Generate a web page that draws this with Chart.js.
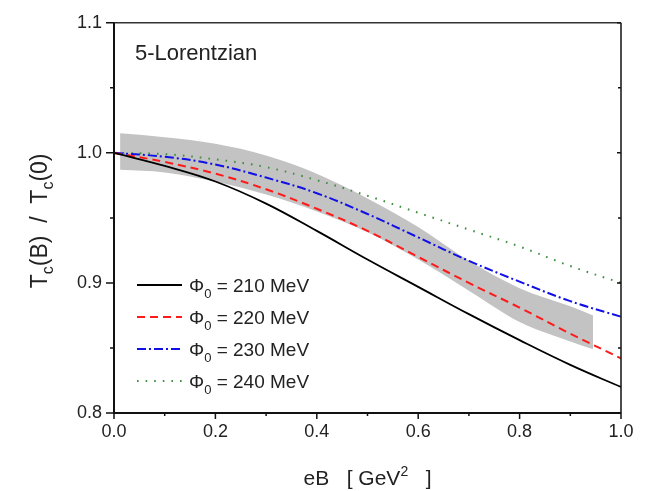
<!DOCTYPE html>
<html>
<head>
<meta charset="utf-8">
<script src="https://cdn.jsdelivr.net/npm/chart.js@4.4.1/dist/chart.umd.min.js"></script>
<style>
html, body { margin: 0; padding: 0; background: #fff; }
#wrap { width: 651px; height: 491px; }
</style>
</head>
<body>
<div id="wrap"><canvas id="tcChart"></canvas></div>
<script>
// eB in GeV^2
const eB = [0.0, 0.1, 0.2, 0.3, 0.4, 0.5, 0.6, 0.7, 0.8, 0.9, 1.0];
const tc210 = [1.000, 0.990, 0.978, 0.961, 0.940, 0.918, 0.897, 0.876, 0.856, 0.837, 0.820];
const tc220 = [1.000, 0.993, 0.984, 0.972, 0.957, 0.940, 0.920, 0.900, 0.881, 0.861, 0.842];
const tc230 = [1.000, 0.997, 0.991, 0.981, 0.969, 0.953, 0.935, 0.917, 0.901, 0.886, 0.874];
const tc240 = [1.000, 0.999, 0.995, 0.989, 0.979, 0.967, 0.954, 0.941, 0.928, 0.913, 0.900];

// lattice band
const bandX = [0.012, 0.1, 0.2, 0.3, 0.4, 0.5, 0.6, 0.7, 0.8, 0.9, 0.945];
const bandUpper = [1.015, 1.012, 1.007, 0.998, 0.984, 0.965, 0.943, 0.917, 0.896, 0.882, 0.875];
const bandLower = [0.987, 0.985, 0.978, 0.968, 0.955, 0.939, 0.918, 0.894, 0.870, 0.855, 0.849];

const phi0 = [210, 220, 230, 240];
const xTicks = [0.0, 0.2, 0.4, 0.6, 0.8, 1.0];
const xMinor = [0.1, 0.3, 0.5, 0.7, 0.9];
const yTicks = [0.8, 0.9, 1.0, 1.1];
const yMinor = [0.85, 0.95, 1.05];

const pts = (xs, ys) => xs.map((x, i) => ({ x: x, y: ys[i] }));
const FONT = '"Liberation Sans", Arial, sans-serif';
const INK = '#222';

const lineSet = (label, ys, color, dash, width) => ({
    label: label,
    data: pts(eB, ys),
    borderColor: color,
    borderDash: dash,
    borderWidth: width,
    pointRadius: 0,
    fill: false,
    tension: 0.4,
    order: 1
});

// frame, ticks, titles and legend drawn on top of the chart
const decorations = {
    id: 'decorations',
    afterDraw(chart) {
        const ctx = chart.ctx;
        const a = chart.chartArea;
        const xs = chart.scales.x, ys = chart.scales.y;
        ctx.save();

        // frame
        ctx.strokeStyle = '#333';
        ctx.lineWidth = 1.5;
        ctx.beginPath();
        ctx.moveTo(a.left, a.top); ctx.lineTo(a.right, a.top);
        ctx.stroke();
        ctx.strokeStyle = '#111';
        ctx.beginPath();
        ctx.moveTo(a.right, a.top); ctx.lineTo(a.right, a.bottom);
        ctx.stroke();
        ctx.lineWidth = 2;
        ctx.beginPath();
        ctx.moveTo(a.left, a.top); ctx.lineTo(a.left, a.bottom);
        ctx.lineTo(a.right, a.bottom);
        ctx.stroke();

        // ticks
        ctx.lineWidth = 1.5;
        ctx.beginPath();
        yTicks.forEach(v => {
            const p = ys.getPixelForValue(v);
            ctx.moveTo(a.left - 8, p); ctx.lineTo(a.left, p);
            ctx.moveTo(a.right - 4, p); ctx.lineTo(a.right, p);
        });
        yMinor.forEach(v => {
            const p = ys.getPixelForValue(v);
            ctx.moveTo(a.left - 4, p); ctx.lineTo(a.left, p);
            ctx.moveTo(a.right - 3, p); ctx.lineTo(a.right, p);
        });
        xTicks.forEach(v => {
            const p = xs.getPixelForValue(v);
            ctx.moveTo(p, a.bottom); ctx.lineTo(p, a.bottom + 6);
        });
        xMinor.forEach(v => {
            const p = xs.getPixelForValue(v);
            ctx.moveTo(p, a.bottom); ctx.lineTo(p, a.bottom + 3);
        });
        ctx.stroke();

        ctx.fillStyle = INK;
        ctx.textBaseline = 'alphabetic';

        // panel label
        ctx.font = '22px ' + FONT;
        ctx.textAlign = 'left';
        ctx.fillText('5-Lorentzian', a.left + 21, 60);

        // x title: eB [ GeV^2 ]
        const xParts = [
            { t: 'eB', size: 21, dy: 0 },
            { t: '   [ GeV', size: 21, dy: 0 },
            { t: '2', size: 14, dy: -9 },
            { t: '   ]', size: 21, dy: 0 }
        ];
        drawParts(ctx, xParts, (a.left + a.right) / 2, 485);

        // y title: Tc(B) / Tc(0), rotated
        ctx.save();
        ctx.translate(47, (a.top + a.bottom) / 2 + 3);
        ctx.rotate(-Math.PI / 2);
        const yParts = [
            { t: 'T', size: 23, dy: 0 },
            { t: 'c', size: 16, dy: 6 },
            { t: '(B)  /  T', size: 23, dy: 0 },
            { t: 'c', size: 16, dy: 6 },
            { t: '(0)', size: 23, dy: 0 }
        ];
        drawParts(ctx, yParts, 0, 0);
        ctx.restore();

        // legend
        const lines = chart.data.datasets.filter(d => d.order === 1);
        lines.forEach((d, i) => {
            const yc = 285 + i * 32;
            ctx.save();
            ctx.strokeStyle = d.borderColor;
            ctx.lineWidth = d.borderWidth;
            ctx.setLineDash(d.borderDash || []);
            ctx.beginPath();
            ctx.moveTo(137, yc); ctx.lineTo(182, yc);
            ctx.stroke();
            ctx.restore();
            drawParts(ctx, [
                { t: '\u03A6', size: 19, dy: 0 },
                { t: '0', size: 13, dy: 6 },
                { t: ' = ' + phi0[i] + ' MeV', size: 19, dy: 0 }
            ], null, yc + 7, 189);
        });

        ctx.restore();
    }
};

function drawParts(ctx, parts, cx, baseY, leftX) {
    let total = 0;
    parts.forEach(p => {
        ctx.font = p.size + 'px ' + FONT;
        p.w = ctx.measureText(p.t).width;
        total += p.w;
    });
    let x = leftX !== undefined ? leftX : cx - total / 2;
    ctx.textAlign = 'left';
    parts.forEach(p => {
        ctx.font = p.size + 'px ' + FONT;
        ctx.fillText(p.t, x, baseY + p.dy);
        x += p.w;
    });
}

new Chart(document.getElementById('tcChart'), {
    type: 'line',
    data: {
        datasets: [
            lineSet('210', tc210, '#000000', [], 1.8),
            lineSet('220', tc220, '#ff1a1a', [8, 5], 2),
            lineSet('230', tc230, '#1010e6', [9, 3, 2, 3], 2),
            lineSet('240', tc240, '#3f8f3f', [1.6, 7], 2),
            {
                label: 'band lower',
                data: pts(bandX, bandLower),
                borderWidth: 0,
                pointRadius: 0,
                fill: false,
                cubicInterpolationMode: 'monotone',
                order: 5
            },
            {
                label: 'band upper',
                data: pts(bandX, bandUpper),
                borderWidth: 0,
                pointRadius: 0,
                backgroundColor: '#c3c3c3',
                fill: '-1',
                cubicInterpolationMode: 'monotone',
                order: 5
            }
        ]
    },
    options: {
        responsive: true,
        maintainAspectRatio: false,
        animation: false,
        layout: { padding: { top: 19, right: 30, left: 0, bottom: 0 } },
        plugins: {
            legend: { display: false },
            tooltip: { enabled: false }
        },
        scales: {
            x: {
                type: 'linear',
                min: 0,
                max: 1,
                afterBuildTicks: s => { s.ticks = xTicks.map(v => ({ value: v })); },
                afterFit: s => { s.height = 78; },
                grid: { display: false, drawTicks: false },
                border: { display: false },
                ticks: {
                    padding: 8,
                    color: INK,
                    font: { family: FONT, size: 18 },
                    callback: v => v.toFixed(1)
                }
            },
            y: {
                min: 0.8,
                max: 1.1,
                afterBuildTicks: s => { s.ticks = yTicks.map(v => ({ value: v })); },
                afterFit: s => { s.width = 114; },
                grid: { display: false, drawTicks: false },
                border: { display: false },
                ticks: {
                    padding: 12,
                    color: INK,
                    font: { family: FONT, size: 18 },
                    callback: v => v.toFixed(1)
                }
            }
        }
    },
    plugins: [decorations]
});
</script>
</body>
</html>
